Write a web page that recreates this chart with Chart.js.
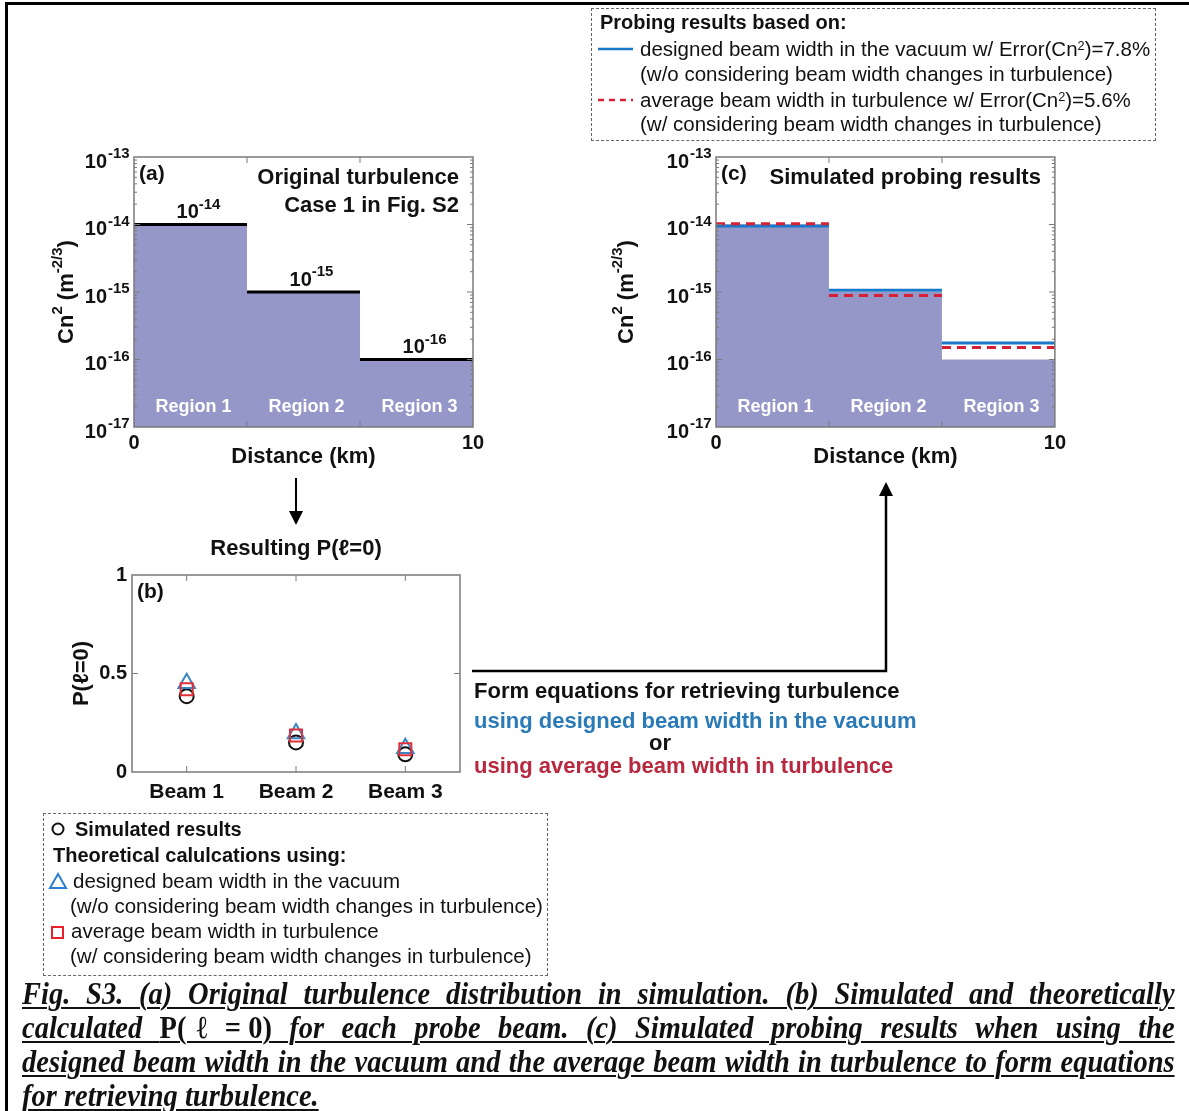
<!DOCTYPE html>
<html>
<head>
<meta charset="utf-8">
<script src="https://cdn.jsdelivr.net/npm/chart.js@4.4.1/dist/chart.umd.min.js"></script>
<style>
  html, body { margin: 0; padding: 0; background: #fff; }
  body { width: 1189px; height: 1111px; position: relative; overflow: hidden;
         font-family: "Liberation Sans", Arial, sans-serif; color: #111; }
  canvas { position: absolute; }
  .overlay { position: absolute; left: 0; top: 0; pointer-events: none; }
  .t { position: absolute; white-space: nowrap; font-size: 20.5px; line-height: 24px; }
  .b { font-weight: bold; font-size: 20px; }
  .big { font-size: 22px; line-height: 26px; font-weight: bold; }
  .legend { position: absolute; border: 1px dashed #666; box-sizing: border-box; }
  sup { font-size: 0.62em; vertical-align: 0.5em; line-height: 0; }
  #caption { position: absolute; left: 22px; top: 976px; width: 1153px;
             font-family: "Liberation Serif", "Times New Roman", serif;
             font-weight: bold; font-style: italic; color: #111; }
  .cl { width: 1295px; height: 34px; line-height: 34px; font-size: 32px;
        transform: scaleX(0.89); transform-origin: 0 0; white-space: nowrap;
        text-align: justify; text-align-last: justify;
        text-decoration: underline; text-decoration-thickness: 2px; text-underline-offset: 3px; }
  .cl.last { text-align-last: left; }
  .cl .m { font-style: normal; }
</style>
</head>
<body>

<canvas id="chartA" width="450" height="330" style="left:40px; top:145px;"></canvas>
<canvas id="chartC" width="470" height="330" style="left:600px; top:145px;"></canvas>
<canvas id="chartB" width="420" height="250" style="left:55px; top:558px;"></canvas>

<svg class="overlay" width="1189" height="1111">
  <!-- page frame -->
  <line x1="5" y1="3.5" x2="1189" y2="3.5" stroke="#000" stroke-width="3"/>
  <line x1="6.5" y1="2" x2="6.5" y2="1111" stroke="#000" stroke-width="3"/>
  <!-- arrow (a) -> (b) -->
  <line x1="296" y1="478" x2="296" y2="515" stroke="#000" stroke-width="2"/>
  <polygon points="289,511 296,525 303,511" fill="#000"/>
  <!-- arrow (b) -> (c) -->
  <polyline points="472,671 886,671 886,492" fill="none" stroke="#000" stroke-width="2.5"/>
  <polygon points="879,496 886,482 893,496" fill="#000"/>
  <!-- legend (c) samples -->
  <line x1="598" y1="49" x2="633" y2="49" stroke="#1a78c8" stroke-width="2.5"/>
  <line x1="598" y1="100" x2="633" y2="100" stroke="#d62035" stroke-width="2.5" stroke-dasharray="6,5"/>
  <!-- legend (b) markers -->
  <circle cx="58" cy="829" r="5.5" fill="none" stroke="#111" stroke-width="2"/>
  <polygon points="50,888 66,888 58,874" fill="none" stroke="#2a7fd0" stroke-width="2"/>
  <rect x="52" y="927" width="11" height="11" fill="none" stroke="#e8202a" stroke-width="2"/>
</svg>

<!-- legend for (c) -->
<div class="legend" style="left:591px; top:8px; width:565px; height:133px;"></div>
<div class="t b" style="left:600px; top:10px;">Probing results based on:</div>
<div class="t" style="left:640px; top:37px;">designed beam width in the vacuum w/ Error(Cn<sup>2</sup>)=7.8%</div>
<div class="t" style="left:640px; top:62px;">(w/o considering beam width changes in turbulence)</div>
<div class="t" style="left:640px; top:88px;">average beam width in turbulence w/ Error(Cn<sup>2</sup>)=5.6%</div>
<div class="t" style="left:640px; top:112px;">(w/ considering beam width changes in turbulence)</div>

<!-- legend for (b) -->
<div class="legend" style="left:43px; top:813px; width:505px; height:163px;"></div>
<div class="t b" style="left:75px; top:817px;">Simulated results</div>
<div class="t b" style="left:53px; top:843px;">Theoretical calulcations using:</div>
<div class="t" style="left:73px; top:869px;">designed beam width in the vacuum</div>
<div class="t" style="left:70px; top:894px;">(w/o considering beam width changes in turbulence)</div>
<div class="t" style="left:71px; top:919px;">average beam width in turbulence</div>
<div class="t" style="left:70px; top:944px;">(w/ considering beam width changes in turbulence)</div>

<!-- flow texts -->
<div class="t big" style="left:196px; top:535px; width:200px; text-align:center;">Resulting P(ℓ=0)</div>
<div class="t big" style="left:474px; top:678px;">Form equations for retrieving turbulence</div>
<div class="t big" style="left:474px; top:708px; color:#2a7ab8;">using designed beam width in the vacuum</div>
<div class="t big" style="left:610px; top:730px; width:100px; text-align:center;">or</div>
<div class="t big" style="left:474px; top:753px; color:#b8283e;">using average beam width in turbulence</div>

<div id="caption">
  <div class="cl">Fig. S3. (a) Original turbulence distribution in simulation. (b) Simulated and theoretically</div>
  <div class="cl">calculated <span class="m">P(ℓ&#8197;=&#8197;0)</span> for each probe beam. (c) Simulated probing results when using the</div>
  <div class="cl">designed beam width in the vacuum and the average beam width in turbulence to form equations</div>
  <div class="cl last">for retrieving turbulence.</div>
</div>

<script>
// --- Data ---
const regionNames = ['Region 1', 'Region 2', 'Region 3'];
const regionEdges = [0, 3.333, 6.667, 10];              // km
const originalCn2 = [1e-14, 1e-15, 1e-16];
const vacuumCn2 = [0.95e-14, 1.06e-15, 1.76e-16];       // designed beam width in vacuum
const turbulenceCn2 = [1.03e-14, 0.89e-15, 1.51e-16];   // average beam width in turbulence
const cn2Ticks = [1e-17, 1e-16, 1e-15, 1e-14, 1e-13];
const cn2TickExponents = ['-17', '-16', '-15', '-14', '-13'];
const distanceTicks = [0, 10];

const beams = ['Beam 1', 'Beam 2', 'Beam 3'];
const simulatedP = [0.385, 0.15, 0.09];
const vacuumP = [0.45, 0.195, 0.12];
const turbulenceP = [0.42, 0.185, 0.115];
const pTicks = [0, 0.5, 1];
const pTickLabels = ['0', '0.5', '1'];

const FONT = '"Liberation Sans", Arial, sans-serif';
const FILL = '#9597c9';
const BLUE = '#1a78c8';
const RED = '#d62035';
const EXP_GAP = 27;     // room left for the exponent of the y tick labels

Chart.defaults.font.family = FONT;
Chart.defaults.color = '#111';
Chart.defaults.animation = false;
Chart.defaults.plugins.legend.display = false;
Chart.defaults.plugins.tooltip.enabled = false;

// horizontal step outline used for the filled area
function stepArea(values) {
    const pts = [];
    values.forEach((v, i) => {
        pts.push({x: regionEdges[i], y: v}, {x: regionEdges[i + 1], y: v});
    });
    return pts;
}

// one flat segment per region, broken between regions
function stepSegments(values) {
    const pts = [];
    values.forEach((v, i) => {
        pts.push({x: regionEdges[i], y: v}, {x: regionEdges[i + 1], y: v}, {x: regionEdges[i + 1], y: null});
    });
    return pts;
}

// text with superscript parts, e.g. [['10',0],['-14',1]]
function drawRich(ctx, parts, x, y, size, supSize, align) {
    const widths = parts.map(([t, s]) => {
        ctx.font = `bold ${s ? supSize : size}px ${FONT}`;
        return ctx.measureText(t).width;
    });
    const total = widths.reduce((a, b) => a + b, 0);
    let cx = align === 'center' ? x - total / 2 : (align === 'right' ? x - total : x);
    ctx.textAlign = 'left';
    ctx.textBaseline = 'middle';
    parts.forEach(([t, s], i) => {
        ctx.font = `bold ${s ? supSize : size}px ${FONT}`;
        ctx.fillText(t, cx, s ? y - size * 0.4 : y);
        cx += widths[i];
    });
}

// frame, inward ticks and the panel annotations
const panelDecor = {
    id: 'panelDecor',
    afterDatasetsDraw(chart, args, o) {
        const {ctx, chartArea: a, scales: {x, y}} = chart;
        ctx.save();

        ctx.strokeStyle = '#7a7a7a';
        ctx.lineWidth = 1.5;
        ctx.strokeRect(a.left, a.top, a.right - a.left, a.bottom - a.top);

        ctx.beginPath();
        (o.xTicks || []).forEach(v => {
            const px = x.getPixelForValue(v);
            ctx.moveTo(px, a.bottom); ctx.lineTo(px, a.bottom - 6);
            ctx.moveTo(px, a.top); ctx.lineTo(px, a.top + 6);
        });
        (o.yTicks || []).forEach(v => {
            const py = y.getPixelForValue(v);
            ctx.moveTo(a.left, py); ctx.lineTo(a.left + 6, py);
            ctx.moveTo(a.right, py); ctx.lineTo(a.right - 6, py);
        });
        (o.yMinor || []).forEach(v => {
            const py = y.getPixelForValue(v);
            ctx.moveTo(a.left, py); ctx.lineTo(a.left + 3, py);
            ctx.moveTo(a.right, py); ctx.lineTo(a.right - 3, py);
        });
        ctx.lineWidth = 1;
        ctx.stroke();

        ctx.fillStyle = '#111';
        ctx.textBaseline = 'middle';
        ctx.textAlign = 'left';
        ctx.font = `bold 21px ${FONT}`;
        ctx.fillText(o.tag, a.left + 5, a.top + 17);

        ctx.textAlign = 'right';
        ctx.font = `bold 22px ${FONT}`;
        (o.notes || []).forEach((t, i) => ctx.fillText(t, a.right - 14, a.top + 21 + i * 28));

        // exponents of the log tick labels ("10" comes from the axis itself)
        if (o.tickExponents) {
            ctx.textAlign = 'left';
            ctx.font = `bold 15px ${FONT}`;
            y.ticks.forEach((t, i) => {
                ctx.fillText(cn2TickExponents[i], a.left - EXP_GAP + 1, y.getPixelForValue(t.value) - 3);
            });
        }

        if (o.regionLabels) {
            ctx.fillStyle = '#fff';
            ctx.textAlign = 'center';
            ctx.font = `bold 18px ${FONT}`;
            regionNames.forEach((r, i) => {
                const mid = (regionEdges[i] + regionEdges[i + 1]) / 2;
                ctx.fillText(r, x.getPixelForValue(mid) + 3, a.bottom - 20);
            });
        }

        if (o.stepLabels) {
            ctx.fillStyle = '#111';
            originalCn2.forEach((v, i) => {
                const mid = (regionEdges[i] + regionEdges[i + 1]) / 2;
                const exp = String(Math.round(Math.log10(v)));
                drawRich(ctx, [['10', 0], [exp, 1]], x.getPixelForValue(mid) + 8, y.getPixelForValue(v) - 12, 20, 15, 'center');
            });
        }

        if (o.cnTitle) {
            ctx.fillStyle = '#111';
            ctx.translate(y.left + 27, (a.top + a.bottom) / 2);
            ctx.rotate(-Math.PI / 2);
            drawRich(ctx, [['Cn', 0], ['2', 1], [' (m', 0], ['-2/3', 1], [')', 0]], 0, 0, 22, 15, 'center');
        }
        ctx.restore();
    }
};

function minorLogTicks() {
    const out = [];
    for (let e = -17; e < -13; e++) {
        for (let m = 2; m <= 9; m++) out.push(m * Math.pow(10, e));
    }
    return out;
}

function turbulenceChart(id, datasets, yWidth, padRight, decor) {
    return new Chart(document.getElementById(id), {
        type: 'line',
        data: {datasets: datasets},
        options: {
            responsive: false,
            layout: {padding: {left: 0, top: 12, right: padRight, bottom: 3}},
            elements: {point: {radius: 0}},
            scales: {
                x: {
                    type: 'linear', min: 0, max: 10,
                    afterBuildTicks: s => { s.ticks = regionEdges.map(v => ({value: v})); },
                    afterFit: s => { s.height = 45; },
                    grid: {display: false, drawTicks: false},
                    border: {display: false},
                    ticks: {
                        autoSkip: false, maxRotation: 0, padding: 4,
                        font: {size: 20, weight: 'bold'},
                        callback: v => distanceTicks.includes(v) ? String(v) : ''
                    },
                    title: {display: true, text: 'Distance (km)', font: {size: 22, weight: 'bold'}, padding: {top: 0, bottom: 2}}
                },
                y: {
                    type: 'logarithmic', min: 1e-17, max: 1e-13,
                    afterBuildTicks: s => { s.ticks = cn2Ticks.map(v => ({value: v})); },
                    afterFit: s => { s.width = yWidth; s.paddingTop = 0; s.paddingBottom = 0; },
                    grid: {display: false, drawTicks: false},
                    border: {display: false},
                    ticks: {
                        autoSkip: false, padding: EXP_GAP, labelOffset: 5,
                        font: {size: 20, weight: 'bold'},
                        callback: () => '10'
                    }
                }
            },
            plugins: {
                panelDecor: Object.assign({
                    xTicks: regionEdges.slice(1, -1),
                    yTicks: cn2Ticks.slice(1, -1),
                    yMinor: minorLogTicks(),
                    regionLabels: true,
                    tickExponents: true,
                    cnTitle: true
                }, decor)
            }
        },
        plugins: [panelDecor]
    });
}

const filledOriginal = {
    data: stepArea(originalCn2),
    borderColor: 'transparent', borderWidth: 0,
    backgroundColor: FILL, fill: 'start', order: 5
};

// (a) original turbulence
turbulenceChart('chartA', [
    Object.assign({}, filledOriginal),
    {data: stepSegments(originalCn2), borderColor: '#000', borderWidth: 3, fill: false, spanGaps: false, order: 1}
], 94, 17, {tag: '(a)', notes: ['Original turbulence', 'Case 1 in Fig. S2'], stepLabels: true});

// (c) simulated probing results
turbulenceChart('chartC', [
    Object.assign({}, filledOriginal, {data: stepArea(originalCn2)}),
    {data: stepSegments(vacuumCn2), borderColor: BLUE, borderWidth: 3, fill: false, spanGaps: false, order: 2},
    {data: stepSegments(turbulenceCn2), borderColor: RED, borderWidth: 3, borderDash: [9, 6], fill: false, spanGaps: false, order: 1}
], 116, 13, {tag: '(c)', notes: ['Simulated probing results']});

// (b) resulting P(l=0)
new Chart(document.getElementById('chartB'), {
    type: 'line',
    data: {
        labels: beams,
        datasets: [
            {data: turbulenceP, showLine: false, pointStyle: 'rect', pointRadius: 8.5,
             borderColor: '#e0303a', borderWidth: 2, backgroundColor: 'transparent', order: 1},
            {data: vacuumP, showLine: false, pointStyle: 'triangle', pointRadius: 9.5,
             borderColor: '#3d86c6', borderWidth: 2, backgroundColor: 'transparent', order: 2},
            {data: simulatedP, showLine: false, pointStyle: 'circle', pointRadius: 7,
             borderColor: '#111', borderWidth: 2, backgroundColor: 'transparent', order: 3}
        ]
    },
    options: {
        responsive: false,
        layout: {padding: {left: 0, top: 12, right: 15, bottom: 0}},
        scales: {
            x: {
                type: 'category', offset: true,
                afterFit: s => { s.height = 36; },
                grid: {display: false, drawTicks: false},
                border: {display: false},
                ticks: {padding: 8, font: {size: 21, weight: 'bold'}}
            },
            y: {
                min: 0, max: 1,
                afterBuildTicks: s => { s.ticks = pTicks.map(v => ({value: v})); },
                afterFit: s => { s.width = 77; },
                grid: {display: false, drawTicks: false},
                border: {display: false},
                ticks: {padding: 5, font: {size: 20, weight: 'bold'}, callback: (v, i) => pTickLabels[i]},
                title: {display: true, text: 'P(ℓ=0)', font: {size: 22, weight: 'bold'}, padding: {top: 14, bottom: 0}}
            }
        },
        plugins: {
            panelDecor: {tag: '(b)', xTicks: [0, 1, 2], yTicks: [0.5]}
        }
    },
    plugins: [panelDecor]
});
</script>
</body>
</html>
